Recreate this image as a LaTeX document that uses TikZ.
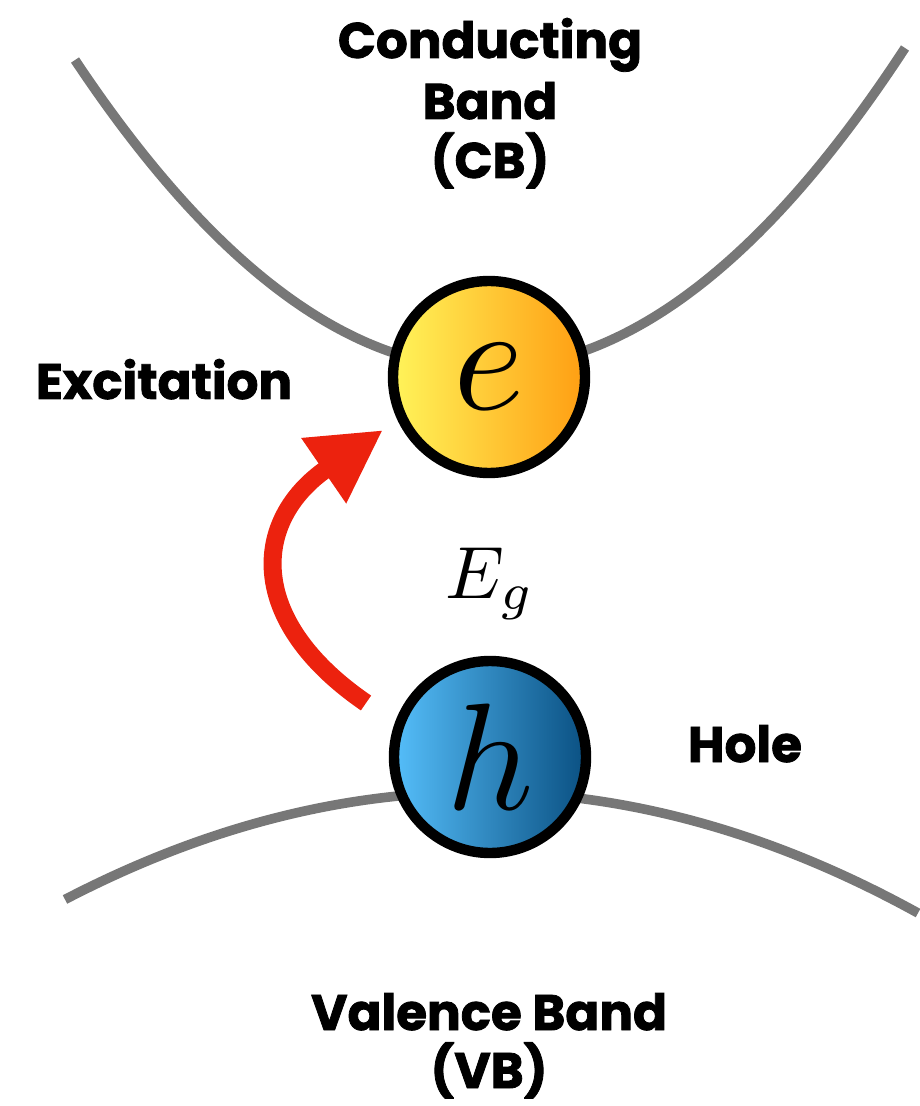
\documentclass[tikz,border=0pt]{standalone}
\usepackage{graphicx}
\usepackage{fontspec}
\newfontfamily\labfont{Poppins}[BoldFeatures={FakeBold=1.6}]
\usetikzlibrary{arrows.meta}
\definecolor{bandgray}{RGB}{119,119,119}
\definecolor{arrred}{RGB}{236,34,14}
\definecolor{eleft}{RGB}{255,244,90}
\definecolor{eright}{RGB}{255,158,18}
\definecolor{hleft}{RGB}{85,190,250}
\definecolor{hright}{RGB}{10,80,130}
\tikzset{
  band/.style={draw=bandgray, line width=4.8pt},
  particle/.style={circle, draw=black, line width=5.2pt, minimum size=96pt, inner sep=0pt},
  excite/.style={draw=arrred, line width=9pt, -{Triangle[length=36pt,width=37pt]}},
  lab/.style={font=\labfont\bfseries\fontsize{25}{30}\selectfont, anchor=base, inner sep=0pt},
}
\begin{document}
\begin{tikzpicture}[x=0.5pt,y=-0.5pt]
\useasboundingbox (0,0) rectangle (919,1106);
% bands
\draw[band] plot[domain=75:905, samples=120] (\x, {368.5 - 18.26*((\x-490)/100)^2 - 1.45*((\x-490)/100)});
\draw[band] plot[domain=65:918, samples=120] (\x, {792 + 6.28*((\x-490)/100)^2 + 1.4*((\x-490)/100)});
% particles
\node[particle, left color=eleft, right color=eright] (e) at (489,377) {\scalebox{7.6}{$e$}};
\node[particle, left color=hleft, right color=hright] (h) at (490,757) {\scalebox{7.6}{$h$}};
% excitation arrow
\coordinate (tail) at (366,703);
\coordinate (tip) at (383,430);
\draw[excite] (tail) .. controls (245,620) and (252,520) .. (tip);
% gap label
\node[anchor=base, inner sep=0pt] (gap) at (490,598) {\scalebox{3.7}{$E_g$}};
% labels
\node[lab] (cb1) at (490,58) {Conducting};
\node[lab] (cb2) at (490,119) {Band};
\node[lab] (cb3) at (490,178) {(CB)};
\node[lab] (exc) at (164,399) {Excitation};
\node[lab] (hole) at (745,762) {Hole};
\node[lab] (vb1) at (489,1030) {Valence Band};
\node[lab] (vb2) at (489,1088) {(VB)};
\end{tikzpicture}
\end{document}
